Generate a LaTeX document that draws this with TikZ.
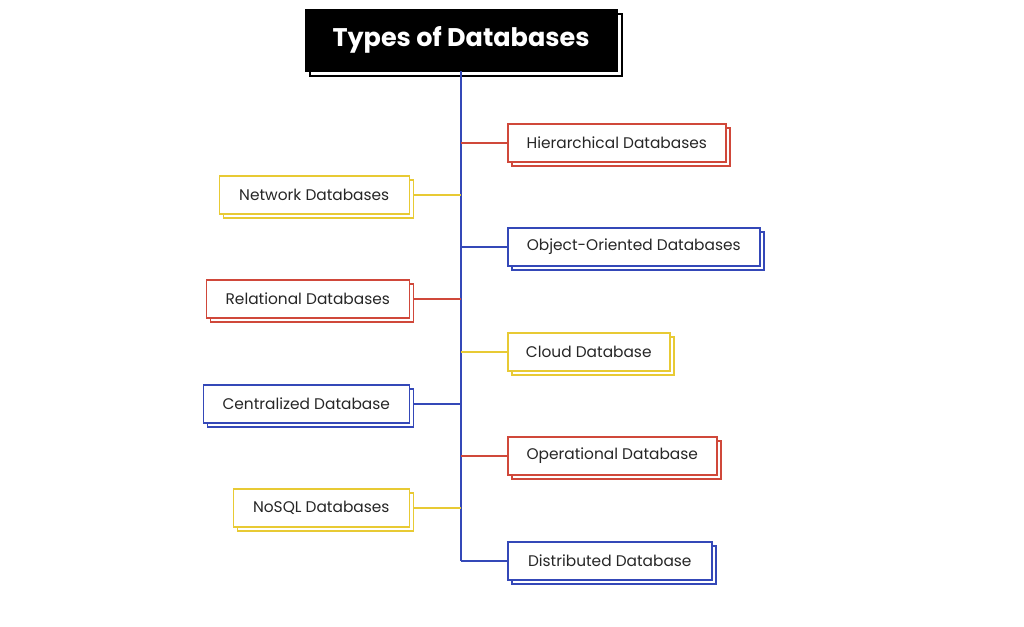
\documentclass[tikz,border=0pt]{standalone}
\usepackage{fontspec}
\setmainfont{Poppins}
\usetikzlibrary{shadows}
\definecolor{cred}{RGB}{208,72,58}
\definecolor{cblue}{RGB}{52,72,184}
\definecolor{cyel}{RGB}{232,202,52}
\tikzset{
  x=1pt,y=1pt,
  dbbox/.style={draw=#1, fill=white, line width=1.5pt, minimum height=38pt,
    inner xsep=0pt, font=\fontsize{15.4}{17}\selectfont, text=black!85,
    copy shadow={shadow xshift=4pt, shadow yshift=-4pt, fill=white, draw=#1, line width=1.5pt}},
  conn/.style={draw=#1, line width=1.5pt},
  titlebox/.style={fill=black, draw=black, minimum width=312pt, minimum height=62pt,
    text=white, font=\fontsize{25.5}{28}\selectfont\bfseries,
    copy shadow={shadow xshift=5pt, shadow yshift=-5pt, fill=white, draw=black, line width=1.2pt}}
}
\begin{document}
\begin{tikzpicture}
\useasboundingbox (0,0) rectangle (1024,626);
\node[titlebox] (title) at (461,586) {\raisebox{-2.5pt}{Types of Databases}};
\coordinate (bottom) at (461,65);
\draw[conn=cblue] (title.south) -- (bottom);
% right boxes
\node[dbbox=cred, minimum width=218pt, anchor=west] (hier) at (507,483) {Hierarchical Databases};
\node[dbbox=cblue, minimum width=252pt, anchor=west] (obj) at (507,379) {Object-Oriented Databases};
\node[dbbox=cyel, minimum width=162pt, anchor=west] (cloud) at (507,274) {Cloud Database};
\node[dbbox=cred, minimum width=209pt, anchor=west] (oper) at (507,170) {Operational Database};
\node[dbbox=cblue, minimum width=204pt, anchor=west] (dist) at (507,65) {Distributed Database};
% left boxes
\node[dbbox=cyel, minimum width=190pt, anchor=east] (net) at (410,431) {Network Databases};
\node[dbbox=cred, minimum width=203pt, anchor=east] (rel) at (410,327) {Relational Databases};
\node[dbbox=cblue, minimum width=206pt, anchor=east] (cent) at (410,222) {Centralized Database};
\node[dbbox=cyel, minimum width=176pt, anchor=east] (nosql) at (410,118) {NoSQL Databases};
% connectors
\draw[conn=cred] (hier.west) -- (hier.west -| title.south);
\draw[conn=cblue] (obj.west) -- (obj.west -| title.south);
\draw[conn=cyel] (cloud.west) -- (cloud.west -| title.south);
\draw[conn=cred] (oper.west) -- (oper.west -| title.south);
\draw[conn=cblue] (dist.west) -- (bottom);
\draw[conn=cyel] ([xshift=4pt]net.east) -- (net.east -| title.south);
\draw[conn=cred] ([xshift=4pt]rel.east) -- (rel.east -| title.south);
\draw[conn=cblue] ([xshift=4pt]cent.east) -- (cent.east -| title.south);
\draw[conn=cyel] ([xshift=4pt]nosql.east) -- (nosql.east -| title.south);
\end{tikzpicture}
\end{document}
